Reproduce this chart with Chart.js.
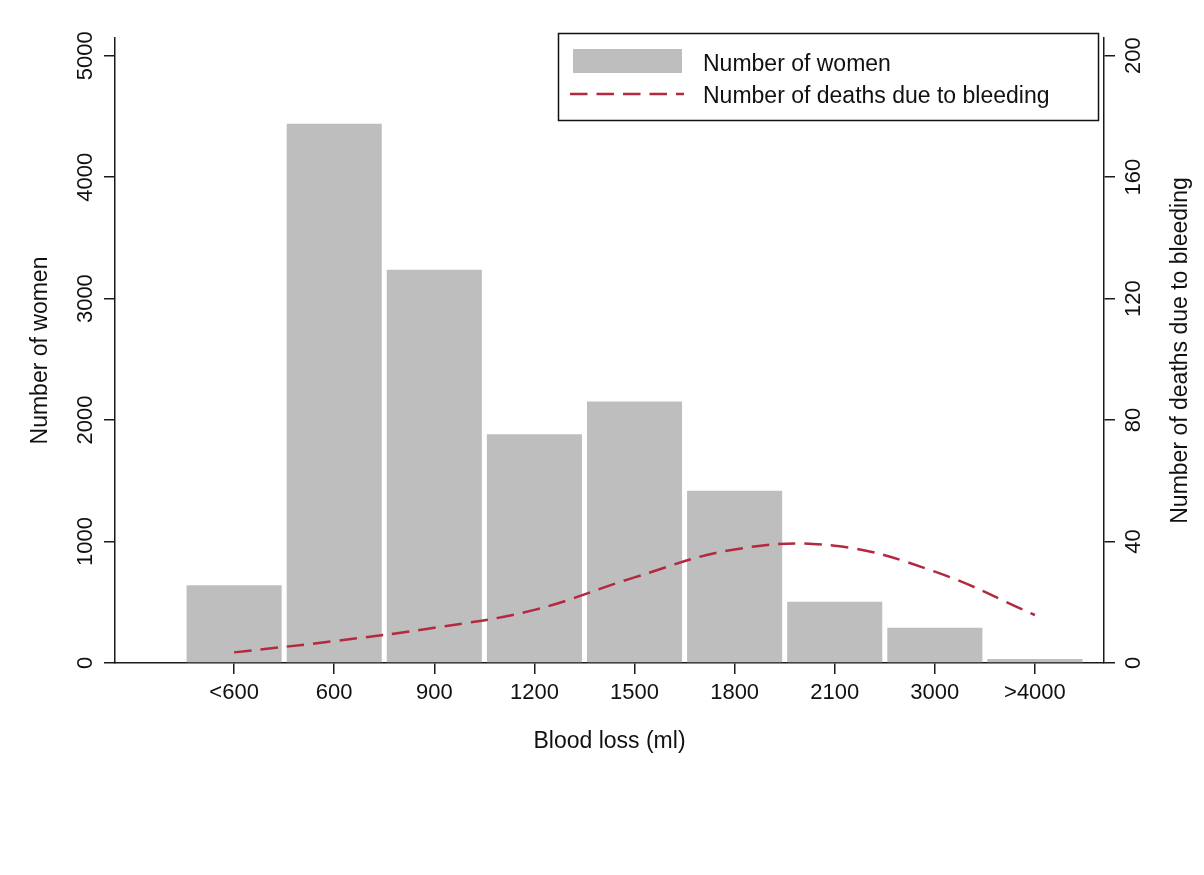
<!DOCTYPE html>
<html>
<head>
<meta charset="utf-8">
<script src="https://cdn.jsdelivr.net/npm/chart.js@4/dist/chart.umd.min.js"></script>
<style>
  html, body { margin: 0; padding: 0; background: #fff; }
  canvas { display: block; }
</style>
</head>
<body>
<canvas id="chart" width="1204" height="875"></canvas>
<script>
// data
const categories = ['<600', '600', '900', '1200', '1500', '1800', '2100', '3000', '>4000'];
const women = [640, 4440, 3237, 1884, 2152, 1419, 505, 291, 33];
const deaths = [3.5, 7.2, 11.6, 17.5, 28.2, 37.4, 38.6, 30.1, 15.8];
const womenTicks = [0, 1000, 2000, 3000, 4000, 5000];
const deathTicks = [0, 40, 80, 120, 160, 200];

const FONT = "'Liberation Sans', Arial, Helvetica, sans-serif";
const barColor = '#bebebe';
const lineColor = '#b3293f';
const axisColor = '#1a1a1a';

const xTitle = 'Blood loss (ml)';
const yTitle = 'Number of women';
const y2Title = 'Number of deaths due to bleeding';

function rotText(ctx, txt, x, y) {
    ctx.save();
    ctx.translate(x, y);
    ctx.rotate(-Math.PI / 2);
    ctx.fillText(txt, 0, 0);
    ctx.restore();
}

// rotated tick labels, axis titles and the boxed legend
const decor = {
    id: 'decor',
    afterDraw(chart) {
        const {ctx, chartArea, scales} = chart;
        const midY = (chartArea.top + chartArea.bottom) / 2;
        ctx.save();
        ctx.fillStyle = '#111';
        ctx.textAlign = 'center';
        ctx.textBaseline = 'middle';

        ctx.font = '22px ' + FONT;
        scales.y.ticks.forEach(t => rotText(ctx, String(t.value), 86, scales.y.getPixelForValue(t.value)));
        scales.y2.ticks.forEach(t => rotText(ctx, String(t.value), 1134, scales.y2.getPixelForValue(t.value)));

        ctx.font = '23px ' + FONT;
        rotText(ctx, yTitle, 41, midY);
        rotText(ctx, y2Title, 1181, midY);
        ctx.fillText(xTitle, (chartArea.left + chartArea.right) / 2, 742);

        // legend
        const ds = chart.data.datasets;
        const bars = ds.find(d => d.type === 'bar');
        const line = ds.find(d => d.type === 'line');
        ctx.lineWidth = 1.5;
        ctx.strokeStyle = '#111';
        ctx.strokeRect(558.5, 33.5, 540, 87);
        ctx.fillStyle = barColor;
        ctx.fillRect(573, 49, 109, 24);
        ctx.strokeStyle = lineColor;
        ctx.lineWidth = 2.5;
        ctx.setLineDash([17.5, 9]);
        ctx.beginPath();
        ctx.moveTo(570, 94);
        ctx.lineTo(684, 94);
        ctx.stroke();
        ctx.setLineDash([]);
        ctx.fillStyle = '#111';
        ctx.textAlign = 'left';
        ctx.textBaseline = 'alphabetic';
        ctx.fillText(bars.label, 703, 70.5);
        ctx.fillText(line.label, 703, 103);
        ctx.restore();
    }
};

const yAxisBase = {
    min: 0,
    grid: {drawOnChartArea: false, drawTicks: true, tickLength: 11, color: axisColor, lineWidth: 1.5},
    border: {display: true, color: axisColor, width: 1.5},
    ticks: {display: false}
};

new Chart(document.getElementById('chart'), {
    data: {
        datasets: [{
            type: 'line',
            label: 'Number of deaths due to bleeding',
            data: deaths.map((v, i) => ({x: i, y: v})),
            yAxisID: 'y2',
            borderColor: lineColor,
            borderWidth: 2.5,
            borderDash: [17.5, 9],
            tension: 0.4,
            pointRadius: 0,
            fill: false,
            order: 0
        }, {
            type: 'bar',
            label: 'Number of women',
            data: women.map((v, i) => ({x: i, y: v})),
            yAxisID: 'y',
            backgroundColor: barColor,
            borderWidth: 0,
            barPercentage: 0.95,
            categoryPercentage: 1,
            order: 1
        }]
    },
    options: {
        responsive: false,
        animation: false,
        layout: {padding: {top: 38, left: 0, right: 0, bottom: 0}},
        plugins: {
            legend: {display: false},
            tooltip: {enabled: false}
        },
        scales: {
            x: {
                type: 'linear',
                position: 'bottom',
                offset: false,
                min: -1.19,
                max: 8.69,
                afterBuildTicks: s => { s.ticks = categories.map((c, i) => ({value: i})); },
                afterFit: s => { s.height = 212; },
                grid: {offset: false, drawOnChartArea: false, drawTicks: true, tickLength: 11, color: axisColor, lineWidth: 1.5},
                border: {display: true, color: axisColor, width: 1.5},
                ticks: {
                    autoSkip: false,
                    maxRotation: 0,
                    padding: 6,
                    color: '#111',
                    font: {family: FONT, size: 22},
                    callback: v => categories[v]
                }
            },
            y: Object.assign({}, yAxisBase, {
                position: 'left',
                max: 5145.7,
                afterBuildTicks: s => { s.ticks = womenTicks.map(v => ({value: v})); },
                afterFit: s => { s.width = 115; }
            }),
            y2: Object.assign({}, yAxisBase, {
                position: 'right',
                max: 205.8,
                afterBuildTicks: s => { s.ticks = deathTicks.map(v => ({value: v})); },
                afterFit: s => { s.width = 100; }
            })
        }
    },
    plugins: [decor]
});
</script>
</body>
</html>
